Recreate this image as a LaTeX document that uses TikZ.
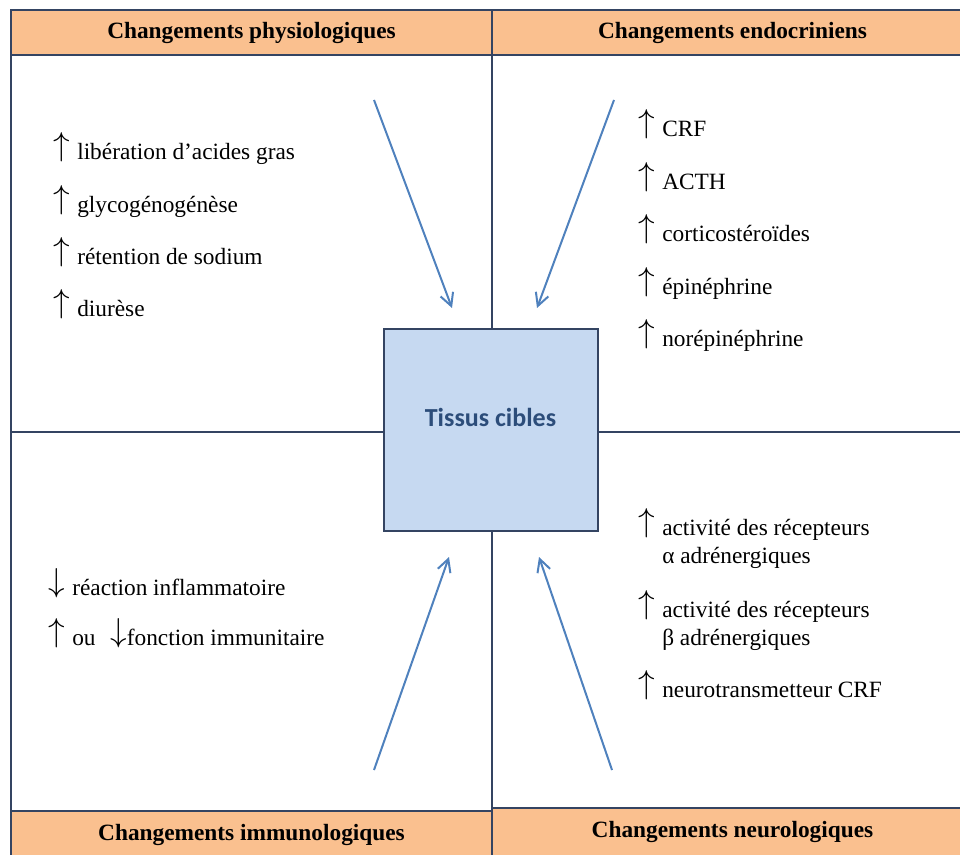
\documentclass[tikz,border=0pt]{standalone}
\usepackage{fontspec}
\setmainfont{Liberation Serif}
\newfontfamily\cibfont{Carlito}
\usetikzlibrary{arrows.meta,positioning}
\definecolor{stressorange}{RGB}{250,192,143}
\definecolor{stressnavy}{RGB}{52,68,98}
\definecolor{stressblue}{RGB}{79,129,189}
\definecolor{stresspale}{RGB}{198,217,241}
\definecolor{stressink}{RGB}{44,77,122}
\newcommand{\fleche}[1]{{\fontsize{24.88}{25}\selectfont\raisebox{3pt}{$#1$}}}
\newcommand{\hausse}{\makebox[18pt][l]{\fleche\uparrow}}
\newcommand{\baisse}{\makebox[18pt][l]{\fleche\downarrow}}

\begin{document}
\begin{tikzpicture}[x=0.75pt, y=-0.75pt,
    bandeau/.style={draw=stressnavy, line width=1.5pt, fill=stressorange},
    titre/.style={inner sep=0pt, font=\fontsize{17.5}{21}\selectfont\bfseries},
    liste/.style={anchor=base west, inner sep=0pt, font=\fontsize{17.5}{21}\selectfont},
    trait/.style={draw=stressnavy, line width=1.5pt},
    flux/.style={draw=stressblue, line width=1.5pt, -{Straight Barb[length=9.5pt,width=10pt]}},
    cible/.style={draw=stressnavy, line width=1.5pt, fill=stresspale, minimum width=160.5pt, minimum height=150.75pt, text=stressink, font=\cibfont\fontsize{19.5}{23}\selectfont\bfseries}]
    \clip (0,0) rectangle (960,855);

    % quadrants
    \draw[trait] (492,10) -- (492,860);
    \draw[trait] (11,432) -- (975,432);
    \draw[trait, line width=2pt] (11,10) -- (11,860);

    % bandeaux
    \draw[bandeau] (11,10) rectangle (492,55);
    \draw[bandeau] (492,10) rectangle (975,55);
    \draw[bandeau] (11,811) rectangle (492,860);
    \draw[bandeau] (492,808) rectangle (975,860);
    \node[titre] (hphys) at (251.5,32.5) {Changements physiologiques};
    \node[titre] (hendo) at (732.5,32.5) {Changements endocriniens};
    \node[titre] (himmu) at (251.5,834.5) {Changements immunologiques};
    \node[titre] (hneuro) at (732.5,831.5) {Changements neurologiques};

    \node[cible] (tissus) at (490.5,430) {\raisebox{2.7pt}[0pt][0pt]{Tissus cibles}};

    % listes
    \foreach \txt [count=\i] in {libération d’acides gras, glycogénogénèse, rétention de sodium, diurèse}
        \node[liste] (phys\i) at (53,{160+52.3*(\i-1)}) {\hausse\txt};
    \foreach \txt [count=\i] in {CRF, ACTH, corticostéroïdes, épinéphrine, norépinéphrine}
        \node[liste] (endo\i) at (638,{137+52.5*(\i-1)}) {\hausse\txt};
    \node[liste] (immu1) at (48,595) {\baisse réaction inflammatoire};
    \node[liste] (immu2) at (48,645) {\hausse ou\hspace{11pt}\fleche\downarrow fonction immunitaire};
    \node[liste] (neuro1) at (638,535) {\hausse\begin{tabular}[t]{@{}l@{}}activité des récepteurs\\α adrénergiques\end{tabular}};
    \node[liste] (neuro2) at (638,617) {\hausse\begin{tabular}[t]{@{}l@{}}activité des récepteurs\\β adrénergiques\end{tabular}};
    \node[liste] (neuro3) at (638,697) {\hausse neurotransmetteur CRF};

    % fleches vers les tissus
    \coordinate (sphys) at (374,100);
    \coordinate (ephys) at (452,308);
    \coordinate (sendo) at (614,100);
    \coordinate (eendo) at (537,308);
    \coordinate (simmu) at (374,770);
    \coordinate (eimmu) at (449,557);
    \coordinate (sneuro) at (612,770);
    \coordinate (eneuro) at (539,557);
    \draw[flux] (sphys) -- (ephys);
    \draw[flux] (sendo) -- (eendo);
    \draw[flux] (simmu) -- (eimmu);
    \draw[flux] (sneuro) -- (eneuro);
\end{tikzpicture}
\end{document}
